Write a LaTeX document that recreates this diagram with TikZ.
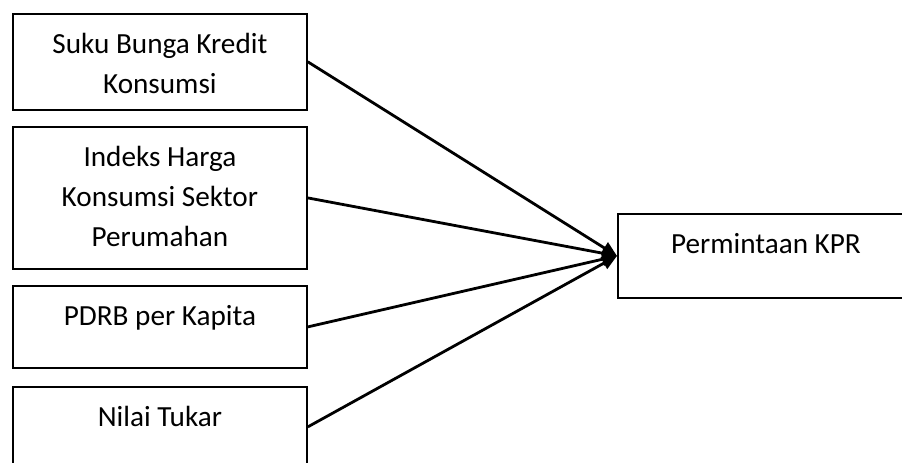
\documentclass[tikz,border=0pt]{standalone}
\usepackage{fontspec}
\setmainfont{Carlito}
\usepackage{tikz}
\usetikzlibrary{arrows.meta}

\begin{document}
\begin{tikzpicture}[
  x=0.5pt, y=-0.5pt,
  box/.style={draw, line width=0.9pt, anchor=north west, inner sep=0pt,
              text width=147pt, align=flush center, text height=20pt,
              font=\fontsize{14.6}{20}\selectfont},
  arr/.style={-{Triangle[length=7.5pt, width=6.5pt]}, line width=1.4pt}
]
  \useasboundingbox (0,0) rectangle (902,462);
  \clip (0,0) rectangle (902,462);
  \node[box, text depth=28.2pt] (suku) at (12,12.7)  {Suku Bunga Kredit\\Konsumsi};
  \node[box, text depth=51.3pt] (ihk)  at (12,125.7) {Indeks Harga\\Konsumsi Sektor\\Perumahan};
  \node[box, text depth=21pt]   (pdrb) at (12,285)   {PDRB per Kapita};
  \node[box, text depth=20pt]   (kurs) at (12,386)   {Nilai Tukar};
  \node[box, text depth=22pt, text width=148pt] (kpr) at (617,213) {Permintaan KPR};
  \draw[arr] (suku.east) -- (kpr.west);
  \draw[arr] (ihk.east)  -- (kpr.west);
  \draw[arr] (pdrb.east) -- (kpr.west);
  \draw[arr] (kurs.east) -- (kpr.west);
\end{tikzpicture}
\end{document}
